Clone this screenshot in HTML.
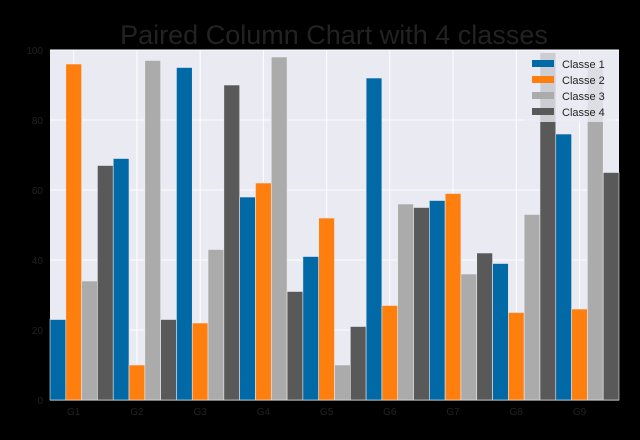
<!DOCTYPE html>
<html><head><meta charset="utf-8"><style>
body{margin:0;background:#000;}
svg{display:block;font-family:"Liberation Sans","DejaVu Sans",sans-serif;}
</style></head><body>
<svg id="chart" width="640" height="440">
<rect width="640" height="440" fill="#000"/>
<text x="334" y="44" font-size="27" text-anchor="middle" fill="#222">Paired Column Chart with 4 classes</text>
<rect x="50" y="50" width="569" height="350" fill="#eaeaf2"/>
<g id="grid"></g><g id="bars"></g><g id="ticks"></g>
<g>
<rect x="525" y="54" width="90" height="68" fill="#eaeaf2" opacity="0.8"/>
<g id="legend"></g>
</g>
</svg>
<script>
const categories=["G1","G2","G3","G4","G5","G6","G7","G8","G9"];
const classNames=["Classe 1","Classe 2","Classe 3","Classe 4"];
const class1=[23,69,95,58,41,92,57,39,76];
const class2=[96,10,22,62,52,27,59,25,26];
const class3=[34,97,43,98,10,56,36,53,95];
const class4=[67,23,90,31,21,55,42,99,65];
const yTicks=[0,20,40,60,80,100];
const series=[class1,class2,class3,class4];
const colors=["#0069a6","#ff7f0e","#ababab","#595959"];
const NS="http://www.w3.org/2000/svg";
const x0=50,x1=619,y0=400,y1=50;
const gw=(x1-x0)/categories.length, bw=gw/4;
const ys=v=>y0-(v/100)*(y0-y1);
function mk(t,a,p){const e=document.createElementNS(NS,t);for(const k in a)e.setAttribute(k,a[k]);p.appendChild(e);return e;}
const grid=document.getElementById('grid'),bars=document.getElementById('bars'),ticks=document.getElementById('ticks'),leg=document.getElementById('legend');
yTicks.forEach(t=>{
 const l=mk('line',{x1:x0,x2:x1,y1:ys(t),y2:ys(t),stroke:'#fff','stroke-width':1},grid);
 
 
 const tx=mk('text',{x:43,y:ys(t)+4,'font-size':10,'text-anchor':'end',fill:'#222'},ticks);
 tx.textContent=t;
 
 
});
categories.forEach((c,i)=>{
 const cx=x0+gw*i+bw*1.5;
 const l=mk('line',{x1:cx,x2:cx,y1:y1,y2:y0,stroke:'#fff','stroke-width':1},grid);
 
 
 const tx=mk('text',{x:cx,y:415,'font-size':10,'text-anchor':'middle',fill:'#222'},ticks);
 tx.textContent=c;
 
 
 series.forEach((s,j)=>{
  const r=mk('rect',{x:x0+gw*i+bw*j,y:ys(s[i]),width:bw,height:y0-ys(s[i]),fill:colors[j],stroke:'#eaeaf2','stroke-width':0.6},bars);
  
  
 });
});
classNames.forEach((n,j)=>{
 const y=64+j*16;
 const r=mk('rect',{x:532,y:y-4,width:22,height:7,fill:colors[j]},leg);
 
 
 const t=mk('text',{x:562,y:y+4,'font-size':11,fill:'#222'},leg);
 t.textContent=n;
 
 
});
</script>
</body></html>
